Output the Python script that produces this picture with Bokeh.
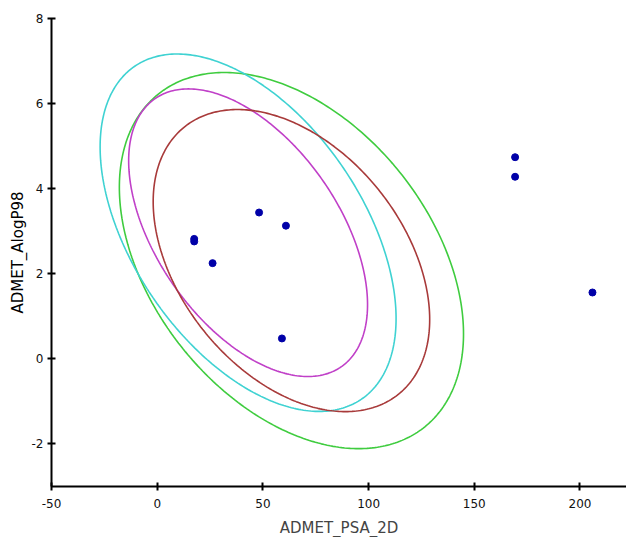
import numpy as np
from bokeh.plotting import figure
from bokeh.models import FixedTicker, Title
from bokeh.embed import file_html
from bokeh.resources import INLINE

# data points (ADMET_PSA_2D, ADMET_AlogP98)
psa = [17.5, 17.5, 26.2, 48.2, 60.9, 59.0, 169.3, 169.3, 205.9]
alogp = [2.82, 2.76, 2.25, 3.44, 3.13, 0.48, 4.74, 4.28, 1.56]

# ellipse models: centre, sigma x, sigma y, correlation
ell_names = ["Absorption 99%", "BBB 99%", "BBB 95%", "Absorption 95%"]
ell_cx = [63.5, 43.0, 43.0, 63.5]
ell_cy = [2.31, 2.965, 2.965, 2.31]
ell_sx = [81.4, 70.0, 56.5, 65.4]
ell_sy = [4.42, 4.20, 3.38, 3.55]
ell_rho = [-0.39, -0.48, -0.50, -0.39]
ell_colors = ["#3fcc3f", "#3fd2d2", "#c040c8", "#a83a3a"]

x_ticks = [-50, 0, 50, 100, 150, 200]
y_ticks = [-2, 0, 2, 4, 6, 8]
x_tick_labels = ["-50", "0", "50", "100", "150", "200"]
y_tick_labels = ["-2", "0", "2", "4", "6", "8"]

p = figure(frame_width=575, frame_height=468, output_backend="svg",
           toolbar_location=None, x_range=(-50, 222), y_range=(-3, 8),
           min_border_left=51, min_border_top=18, min_border_right=0,
           min_border_bottom=10)
p.grid.visible = False
p.outline_line_color = None
p.background_fill_color = "white"

t = np.linspace(0, 2 * np.pi, 361)
for cx, cy, sx, sy, r, c in zip(ell_cx, ell_cy, ell_sx, ell_sy, ell_rho, ell_colors):
    xs = cx + sx * np.cos(t)
    ys = cy + sy * (r * np.cos(t) + np.sqrt(1 - r * r) * np.sin(t))
    p.line(xs, ys, line_color=c, line_width=1.6)

p.scatter(psa, alogp, size=7, fill_color="#0000a8", line_color="#0000a8")

for ax in (p.xaxis[0], p.yaxis[0]):
    ax.axis_line_width = 2
    ax.axis_line_color = "black"
    ax.major_tick_line_width = 2
    ax.major_tick_line_color = "black"
    ax.major_tick_in = 4
    ax.major_tick_out = 4
    ax.minor_tick_line_color = None
    ax.major_label_text_font = "DejaVu Sans"
    ax.major_label_text_font_size = "12px"
    ax.major_label_text_color = "#111111"

p.xaxis.ticker = FixedTicker(ticks=x_ticks)
p.yaxis.ticker = FixedTicker(ticks=y_ticks)
p.xaxis.major_label_overrides = dict(zip(x_ticks, x_tick_labels))
p.yaxis.major_label_overrides = dict(zip(y_ticks, y_tick_labels))
p.xaxis.major_label_standoff = 8
p.yaxis.major_label_standoff = 4
p.xaxis.axis_label = "ADMET_PSA_2D"
p.xaxis.axis_label_text_font = "DejaVu Sans"
p.xaxis.axis_label_text_font_style = "normal"
p.xaxis.axis_label_text_font_size = "15px"
p.xaxis.axis_label_standoff = 8

ytitle = Title(text="ADMET_AlogP98", align="center",
               text_font="DejaVu Sans", text_font_size="15px",
               text_font_style="normal", text_color="black", standoff=4)
p.add_layout(ytitle, "left")

open("out.html", "w").write(file_html(p, INLINE))
